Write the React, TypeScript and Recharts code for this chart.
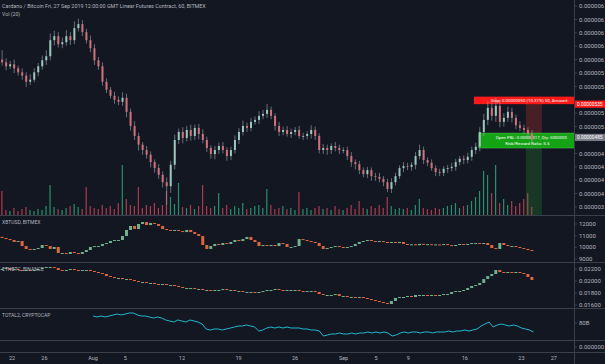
import React from "react";
import { ComposedChart, Bar, Line, XAxis, YAxis, ReferenceArea, ReferenceLine } from "recharts";

// ---------- data (12h candles, index 0 = 20 Jul 2019 12:00) ----------
const CATS = 143;
const FIRST_OPEN = 600;
// ADA/BTC closes in satoshi
const closes = [596,590,593,587,581,576,567,570,581,590,599,605,629,635,623,626,635,629,647,653,641,629,617,599,590,567,555,546,540,537,543,522,501,486,473,465,458,447,438,428,417,411,443,480,492,483,495,486,498,489,480,468,459,465,471,465,456,465,480,492,501,498,507,510,516,519,525,516,501,492,495,489,492,495,486,486,489,495,486,465,468,465,471,468,465,465,456,447,444,435,429,435,426,425,422,417,407,417,426,438,441,440,443,456,465,450,446,438,432,431,437,438,440,447,452,450,455,465,470,492,510,528,516,531,507,513,522,513,502,498,495,489,480];
const upWick = [14,6,5,7,4,6,5,8,6,5,7,9,10,8,6,7,9,6,10,8,6,5,7,6,5,6,5,4,6,5,8,6,5,7,5,4,6,5,4,6,5,7,6,8,5,7,6,8,5,6,7,5,4,6,5,6,4,5,7,6,8,5,6,5,7,6,9,5,4,6,5,6,5,4,6,5,4,7,5,4,6,5,4,6,5,4,5,6,4,5,4,5,4,5,6,4,5,6,5,4,6,5,4,6,8,5,4,5,4,5,4,5,6,5,4,5,6,5,6,7,9,10,8,12,9,7,8,6,5,6,5,4,6];
const downWick = [5,6,4,7,5,6,8,5,4,6,5,7,6,8,5,6,5,7,6,5,6,5,6,7,5,6,5,4,6,5,6,8,7,6,9,7,6,8,7,6,8,28,10,7,6,8,5,7,6,8,5,6,7,8,6,5,7,6,5,6,5,6,5,4,6,5,6,5,7,6,5,4,6,5,4,6,5,7,6,5,6,7,6,5,6,5,6,7,8,6,5,6,7,6,5,6,5,6,5,4,6,5,6,7,5,6,5,4,6,5,5,6,5,6,5,6,5,6,6,7,6,8,7,9,8,7,6,7,6,5,6,7,8];
const volumes = [24,5,4,7,4,6,8,5,4,6,5,9,30,8,6,5,7,9,11,8,6,28,9,7,6,10,7,9,6,12,50,16,10,9,28,7,10,9,12,7,10,24,18,11,32,8,7,10,6,9,30,9,7,9,22,7,10,6,9,7,12,6,7,9,10,7,26,10,6,7,9,6,7,5,23,6,7,5,7,9,6,7,5,9,6,5,7,10,6,14,7,6,9,7,10,7,18,9,6,7,6,7,5,10,16,7,6,5,7,6,7,9,10,12,7,9,10,14,18,24,44,40,22,50,12,16,10,14,9,12,16,22,8];
// XBTUSD closes
const XBT_FIRST_OPEN = 10900;
const xbtCloses = [10800,10710,10630,10460,10540,10110,9860,9770,9860,9940,10200,10110,9860,10030,9510,9510,9430,9600,9510,9430,9600,9770,10030,10110,10110,10290,10370,10540,10630,10630,10970,11490,11830,11570,12000,12170,11910,12090,12000,11830,11570,11490,11400,11490,11400,11310,11490,11310,11140,10970,10200,9860,10110,10290,10200,10370,10290,10460,10630,10540,10710,10890,10630,10460,10110,10200,10110,10200,10110,10370,10290,10030,10030,10110,10710,10630,10540,10460,10370,10110,9860,9940,10030,10110,10030,9940,10030,10110,10290,10460,10540,10630,10540,10460,10540,10460,10370,10460,10370,10460,10290,10200,10260,10180,10300,10220,10270,10190,10250,10210,10280,10190,10110,10200,10290,10200,10290,10370,10370,10290,10370,10200,9940,9860,10370,10200,10110,10110,10030,9940,9860,9770,9690];
// ETHBTC closes
const ETH_FIRST_OPEN = 0.0220;
const ethCloses = [0.02200,0.02217,0.02183,0.02200,0.02183,0.02167,0.02183,0.02167,0.02183,0.02200,0.02217,0.02233,0.02233,0.02217,0.02183,0.02167,0.02183,0.02200,0.02183,0.02167,0.02183,0.02183,0.02167,0.02150,0.02133,0.02117,0.02083,0.02067,0.02050,0.02050,0.02033,0.02033,0.02017,0.02000,0.01983,0.01983,0.01967,0.01967,0.01950,0.01933,0.01950,0.01933,0.01933,0.01917,0.01900,0.01883,0.01883,0.01883,0.01867,0.01867,0.01850,0.01850,0.01833,0.01850,0.01850,0.01867,0.01850,0.01850,0.01833,0.01833,0.01817,0.01817,0.01817,0.01800,0.01817,0.01833,0.01850,0.01850,0.01867,0.01850,0.01833,0.01850,0.01850,0.01850,0.01833,0.01817,0.01833,0.01833,0.01817,0.01783,0.01767,0.01767,0.01767,0.01783,0.01750,0.01750,0.01733,0.01733,0.01717,0.01733,0.01717,0.01700,0.01683,0.01667,0.01650,0.01633,0.01617,0.01667,0.01717,0.01733,0.01733,0.01750,0.01733,0.01767,0.01767,0.01767,0.01750,0.01767,0.01750,0.01767,0.01783,0.01783,0.01817,0.01833,0.01833,0.01850,0.01883,0.01917,0.01933,0.01967,0.02033,0.02083,0.02117,0.02183,0.02150,0.02133,0.02150,0.02133,0.02150,0.02133,0.02117,0.02067,0.02017];
// TOTAL2 (billions), starts at candle 23
const TOTAL2_START = 23;
const total2 = [88.4,87.2,88.4,87.2,88.4,89.6,90.8,89.6,90.8,92,92,89.6,88.4,88.4,87.2,86,87.2,86,83.6,82.4,81.2,83.6,82.4,81.2,83.6,82.4,81.2,78.8,72.8,71.6,72.8,72.8,71.6,72.8,74,75.2,76.4,76.4,77.6,76.4,75.2,70.4,71.6,74,75.2,74,75.2,74,75.2,74,74,74,72.8,72.8,71.6,71.6,70.4,64.4,65.6,66.8,66.8,68,66.8,66.8,68,66.8,68,68,69.2,68,69.2,68,69.2,68,64.4,65.6,68,69.2,68,69.2,69.2,68,69.2,69.2,68,69.2,69.2,69.2,70.4,69.2,70.4,70.4,71.6,70.4,71.6,72.8,76.4,78.8,81.2,75.2,77.6,78.8,77.6,76.4,77.6,76.4,74,72.8,71.6,69.2];

// axis ticks (480 and 540 sit under the position price tags)
const priceTicks = [380,400,420,440,460,500,520,560,580,600,620,640,660,680];
const xbtTicks = [9000,10000,11000,12000];
const ethTicks = [0.016,0.018,0.020,0.022];
const totalTicks = [80];
const dayTicks = [3,11,23,31,45,59,73,85,93,101,115,129,137];
const dayLabels = ["22","26","Aug","5","12","19","26","Sep","5","9","16","23","27"];

// position tool (long)
const POS_ENTRY = 485;
const POS_STOP = 535;
const POS_TARGET = 210;
const POS_FROM = 131;
const POS_TO = 134;

const TITLE = "Cardano / Bitcoin Fri, 27 Sep 2019 12:00:00 GMT Linear Futures Contract, 60, BITMEX";

// ---------- build rows ----------
type Row = { [k: string]: any };
const rows: Row[] = [];
for (let i = 0; i < CATS; i++) {
  const r: Row = { t: i };
  if (i < closes.length) {
    const o = i === 0 ? FIRST_OPEN : closes[i - 1];
    const c = closes[i];
    r.o = o; r.c = c;
    r.h = Math.max(o, c) + upWick[i];
    r.l = Math.min(o, c) - downWick[i];
    r.vol = volumes[i];
    r.up = c >= o;
    r.xo = i === 0 ? XBT_FIRST_OPEN : xbtCloses[i - 1];
    r.xc = xbtCloses[i];
    r.eo = i === 0 ? ETH_FIRST_OPEN : ethCloses[i - 1];
    r.ec = ethCloses[i];
  }
  const ti = i - TOTAL2_START;
  r.tot = ti >= 0 && ti < total2.length ? total2[ti] : null;
  rows.push(r);
}

// ---------- style ----------
const W = 605;
const AXW = 31;
const PLOT_W = W - AXW;
const MAIN_H = 215;
const BG = "#131722";
const SEP = "#3b3f4a";
const TXT = "#b2b5be";
const FONT = "Roboto, 'Noto Sans', sans-serif";
const UP = "#9cc7bf";
const DOWN = "#cf727b";
const WICK = "#a2a6af";
const UP2 = "#6fb08f";
const DOWN2 = "#e0653f";
const RED = "#ff1a1a";
const GREEN = "#14a314";

const tickStyle = { fill: TXT, fontSize: 6, fontFamily: FONT };
// the price scale is only wide enough for the first characters of each label
const fitAxis = (s: string, n: number) => s.slice(0, n);

function Candle(props: any) {
  const { x, y, width, height, payload } = props;
  if (!payload || payload.c == null) return null;
  const top = Math.min(y, y + height);
  const hgt = Math.abs(height);
  const span = payload.h - payload.l;
  const k = span > 0 ? hgt / span : 0;
  const yo = top + (payload.h - payload.o) * k;
  const yc = top + (payload.h - payload.c) * k;
  const col = payload.c >= payload.o ? UP : DOWN;
  const cx = x + width / 2;
  return (
    <g>
      <line x1={cx} x2={cx} y1={top} y2={top + hgt} stroke={WICK} strokeWidth={0.6} />
      <rect x={x} y={Math.min(yo, yc)} width={width} height={Math.max(0.8, Math.abs(yo - yc))} fill={col} />
    </g>
  );
}

function makeBody(oKey: string, cKey: string) {
  return (props: any) => {
    const { x, y, width, height, payload } = props;
    if (!payload || payload[cKey] == null) return null;
    const top = Math.min(y, y + height);
    const hgt = Math.max(1, Math.abs(height));
    const col = payload[cKey] >= payload[oKey] ? UP2 : DOWN2;
    return <rect x={x} y={top} width={width} height={hgt} fill={col} />;
  };
}
const XbtBody = makeBody("xo", "xc");
const EthBody = makeBody("eo", "ec");

function VolBar(props: any) {
  const { x, y, width, height, payload } = props;
  if (!payload || payload.vol == null) return null;
  const w = width * 0.6;
  return (
    <rect x={x + (width - w) / 2} y={Math.min(y, y + height)} width={w} height={Math.abs(height)}
      fill={payload.up ? "#2fb884" : "#e0455c"} fillOpacity={0.75} />
  );
}

function PositionLabels(props: any) {
  const vb = props.viewBox;
  if (!vb) return null;
  const cx = vb.x + vb.width / 2;
  const top = vb.y;
  const entryY = vb.y + vb.height;
  return (
    <g>
      <defs>
        <clipPath id="posClip">
          <rect x={0} y={0} width={PLOT_W} height={MAIN_H} />
        </clipPath>
      </defs>
      <g clipPath="url(#posClip)">
        <rect x={cx - 60} y={top - 6.5} width={130} height={7.5} fill={RED} />
        <text x={cx - 43} y={top - 1.1} fontSize={4.4} fill="#ffffff" fontFamily={FONT}>
          Stop: 0.00000050 (10.31%) 50, Amount:
        </text>
        <rect x={cx - 55} y={entryY - 3.6} width={125} height={15} fill={GREEN} stroke="#5fd35f" strokeWidth={0.4} />
        <text x={cx - 38} y={entryY + 1.9} fontSize={4.3} fill="#ffffff" fontFamily={FONT}>
          Open P&amp;L: 0.00000017, Qty: 5000000
        </text>
        <text x={cx - 6.5} y={entryY + 8.4} fontSize={4.4} fill="#ffffff" fontFamily={FONT} textAnchor="middle">
          Risk/Reward Ratio: 5.5
        </text>
      </g>
    </g>
  );
}

function AxisTag(props: any) {
  const vb = props.viewBox;
  if (!vb) return null;
  const x = vb.x + vb.width;
  return (
    <g>
      <rect x={x} y={vb.y - 3.6 + props.dy} width={AXW} height={7.2} fill={props.bg} />
      <text x={x + 3} y={vb.y + 1.8 + props.dy} fontSize={4.8} fill="#ffffff" fontFamily={FONT}>
        {props.text}
      </text>
    </g>
  );
}

const Abs = ({ top, children }: { top: number; children: any }) => (
  <div style={{ position: "absolute", left: 0, top }}>{children}</div>
);
const HLine = ({ top }: { top: number }) => (
  <div style={{ position: "absolute", left: 0, top, width: W, height: 1, background: SEP }} />
);

const rightAxisProps = {
  orientation: "right" as const,
  width: AXW,
  axisLine: false,
  tickLine: { stroke: SEP },
  tickSize: 3,
  tickMargin: 2,
  tick: tickStyle,
  allowDataOverflow: true,
  interval: 0 as const,
};

export default function App() {
  return (
    <div style={{ position: "fixed", left: 0, top: 0, width: W, height: 364, background: BG, overflow: "hidden", fontFamily: FONT }}>
      {/* volume layer */}
      <Abs top={0}>
        <ComposedChart width={W} height={MAIN_H} data={rows} margin={{ top: 0, right: 0, bottom: 0, left: 0 }} barCategoryGap="22%">
          <XAxis dataKey="t" type="category" hide />
          <YAxis orientation="right" width={AXW} domain={[0, 215]} tick={false} axisLine={false} tickLine={false} allowDataOverflow />
          <Bar dataKey="vol" shape={VolBar} isAnimationActive={false} />
        </ComposedChart>
      </Abs>
      {/* main price pane */}
      <Abs top={0}>
        <ComposedChart width={W} height={MAIN_H} data={rows} margin={{ top: 0, right: 0, bottom: 0, left: 0 }} barCategoryGap="28%">
          <XAxis dataKey="t" type="category" hide />
          <YAxis {...rightAxisProps} domain={[368, 689]} ticks={priceTicks} tickFormatter={(v: number) => fitAxis((v / 1e8).toFixed(8), 8)} />
          <ReferenceArea x1={POS_FROM} x2={POS_TO} y1={POS_ENTRY} y2={POS_TARGET} fill="#2e9d3b" fillOpacity={0.24} stroke="none" ifOverflow="hidden" />
          <ReferenceArea x1={POS_FROM} x2={POS_TO} y1={POS_ENTRY} y2={POS_STOP} fill="#e53935" fillOpacity={0.25} stroke="none" />
          <Bar dataKey={(d: Row) => (d.c == null ? null : [d.l, d.h])} shape={Candle} isAnimationActive={false} />
          <ReferenceArea x1={POS_FROM} x2={POS_TO} y1={POS_ENTRY} y2={POS_STOP} fill="none" stroke="none" label={<PositionLabels />} />
          <ReferenceLine y={POS_STOP} stroke="none" label={<AxisTag bg={RED} text={(POS_STOP / 1e8).toFixed(8)} dy={1} />} />
          <ReferenceLine y={POS_ENTRY} stroke="none" label={<AxisTag bg="#787b86" text={(POS_ENTRY / 1e8).toFixed(8)} dy={0.8} />} />
        </ComposedChart>
      </Abs>
      <HLine top={215} />
      {/* XBTUSD pane */}
      <Abs top={216}>
        <ComposedChart width={W} height={46} data={rows} margin={{ top: 0, right: 0, bottom: 0, left: 0 }} barCategoryGap="14%">
          <XAxis dataKey="t" type="category" hide />
          <YAxis {...rightAxisProps} domain={[8743, 12686]} ticks={xbtTicks} />
          <Bar dataKey={(d: Row) => (d.xc == null ? null : [Math.min(d.xo, d.xc), Math.max(d.xo, d.xc)])} shape={XbtBody} isAnimationActive={false} />
        </ComposedChart>
      </Abs>
      <HLine top={262} />
      {/* ETHBTC pane */}
      <Abs top={263}>
        <ComposedChart width={W} height={45} data={rows} margin={{ top: 0, right: 0, bottom: 0, left: 0 }} barCategoryGap="14%">
          <XAxis dataKey="t" type="category" hide />
          <YAxis {...rightAxisProps} domain={[0.0155, 0.023]} ticks={ethTicks} tickFormatter={(v: number) => fitAxis(v.toFixed(6), 7)} />
          <Bar dataKey={(d: Row) => (d.ec == null ? null : [Math.min(d.eo, d.ec), Math.max(d.eo, d.ec)])} shape={EthBody} isAnimationActive={false} />
        </ComposedChart>
      </Abs>
      <HLine top={308} />
      {/* TOTAL2 pane */}
      <Abs top={309}>
        <ComposedChart width={W} height={31} data={rows} margin={{ top: 0, right: 0, bottom: 0, left: 0 }}>
          <XAxis dataKey="t" type="category" hide />
          <YAxis {...rightAxisProps} domain={[59.6, 96.8]} ticks={totalTicks} tickFormatter={(v: number) => `${v}B`} />
          <Line dataKey="tot" stroke="#22b8cc" strokeWidth={1} dot={false} isAnimationActive={false} connectNulls={false} />
        </ComposedChart>
      </Abs>
      <HLine top={340} />
      {/* empty pane + time axis */}
      <Abs top={341}>
        <ComposedChart width={W} height={23} data={rows} margin={{ top: 0, right: 0, bottom: 0, left: 0 }}>
          <XAxis dataKey="t" type="category" height={12} ticks={dayTicks} interval={0} axisLine={false} tickLine={false} tickSize={0} tickMargin={4}
            tick={{ fill: TXT, fontSize: 5.5, fontFamily: FONT }}
            tickFormatter={(v: number) => dayLabels[dayTicks.indexOf(v)] ?? ""} />
          <YAxis {...rightAxisProps} domain={[-5, 6]} ticks={[0]} tickFormatter={(v: number) => fitAxis(v.toFixed(8), 8)} />
          <Line dataKey="zero" stroke="none" dot={false} isAnimationActive={false} />
        </ComposedChart>
      </Abs>
      <HLine top={352} />
      <div style={{ position: "absolute", left: PLOT_W, top: 0, width: 1, height: 364, background: SEP }} />
      {/* pane captions */}
      <svg width={W} height={364} style={{ position: "absolute", left: 0, top: 0, pointerEvents: "none" }}>
        <g fill={TXT} fontFamily={FONT}>
          <text x={2} y={8} fontSize={5.4}>{TITLE}</text>
          <text x={2} y={16} fontSize={5.2}>Vol (20)</text>
          <text x={2} y={224} fontSize={5}>XBTUSD, BITMEX</text>
          <text x={2} y={271} fontSize={5}>ETHBTC, BINANCE</text>
          <text x={2} y={317} fontSize={5}>TOTAL2, CRYPTOCAP</text>
        </g>
      </svg>
    </div>
  );
}
